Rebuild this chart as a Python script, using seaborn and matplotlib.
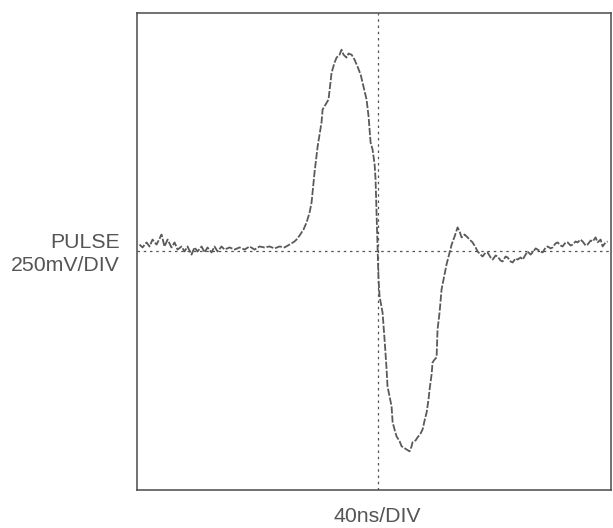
import pandas as pd
import matplotlib.pyplot as plt
import seaborn as sns

# Scope trace: time relative to centre (ns), pulse (mV)
time_ns = [-200.9, -198.3, -195.0, -192.4, -189.9, -186.5, -182.3, -179.8, -177.2, -173.9,
           -171.3, -168.8, -165.4, -162.9, -160.4, -157.0, -154.5, -151.9, -148.5, -146.0,
           -143.5, -140.1, -137.6, -135.0, -131.7, -129.1, -124.9, -120.7, -116.5, -112.3,
           -108.0, -103.8, -99.6, -95.4, -91.2, -86.9, -82.7, -78.5, -74.3, -70.1,
           -68.4, -65.8, -62.5, -59.9, -57.4, -55.7, -53.2, -50.6, -47.3, -46.4,
           -43.9, -41.4, -38.8, -36.3, -34.6, -32.1, -30.4, -28.7, -26.2, -24.5,
           -21.9, -19.4, -16.9, -14.3, -12.7, -11.0, -9.3, -7.6, -5.9, -4.2,
           -2.5, -1.7, -0.8, 0.0, 0.3, 0.8, 1.7, 4.2, 5.9, 7.6,
           8.4, 10.1, 11.8, 12.7, 14.3, 16.0, 18.6, 20.3, 22.8, 24.5,
           27.0, 28.7, 29.5, 32.1, 33.8, 36.3, 38.0, 39.7, 41.4, 43.0,
           43.9, 45.6, 46.4, 48.1, 49.8, 50.6, 52.3, 54.0, 55.7, 58.2,
           60.8, 62.5, 65.0, 67.5, 69.2, 70.9, 73.4, 76.0, 77.6, 80.2,
           82.7, 84.4, 86.9, 88.6, 91.2, 92.8, 95.4, 97.1, 99.6, 101.3,
           103.8, 105.5, 108.0, 109.7, 112.3, 114.0, 116.5, 118.2, 120.7, 122.4,
           124.9, 126.6, 129.1, 130.8, 133.4, 135.0, 137.6, 139.3, 141.8, 143.5,
           146.0, 147.7, 150.2, 151.9, 154.5, 156.1, 158.7, 160.4, 162.9, 164.6,
           167.1, 168.8, 171.3, 173.0, 175.6, 177.2, 179.8, 181.5, 184.0, 185.7,
           188.2, 189.9, 192.4, 194.1]
pulse_mv = [29, 17, 38, 21, 50, 29, 71, 21, 50, 17,
            38, 8, 21, 0, 21, -13, 17, 0, 21, -4,
            17, -4, 21, 0, 21, 8, 17, 8, 17, 8,
            21, 8, 21, 17, 21, 13, 21, 17, 29, 42,
            50, 67, 92, 122, 163, 205, 331, 440, 541, 595,
            616, 637, 750, 792, 813, 825, 846, 825, 813, 830,
            825, 804, 775, 742, 708, 670, 637, 566, 457, 427,
            365, 302, 147, 0, -46, -117, -189, -256, -369, -494,
            -566, -608, -649, -716, -746, -775, -796, -817, -825, -830,
            -838, -817, -800, -792, -779, -763, -746, -708, -675, -620,
            -578, -515, -465, -453, -444, -327, -256, -159, -117, -54,
            -4, 29, 63, 101, 84, 59, 71, 59, 50, 38,
            17, 0, -13, -21, -4, -4, -25, -34, -17, -21,
            -38, -42, -21, -25, -42, -46, -29, -34, -25, -34,
            -13, 0, -13, -4, 13, 8, 0, -4, 17, 21,
            13, 17, 34, 38, 25, 21, 38, 38, 25, 29,
            42, 38, 50, 42, 25, 29, 46, 42, 59, 38,
            50, 21, 38, 42]

y_label = "PULSE\n250mV/DIV"
x_label = "40ns/DIV"

df = pd.DataFrame({"t": time_ns, "v": pulse_mv})

sns.set_style("white")
fig = plt.figure(figsize=(6.13, 5.28), dpi=100)
ax = fig.add_axes([0.2235, 0.072, 0.7733, 0.9034])

sns.lineplot(data=df, x="t", y="v", ax=ax, color="#5a5a5a", linewidth=1.3,
             linestyle=(0, (4, 1)), sort=False)

# centre graticule lines
ax.axvline(0, color="#555555", linewidth=0.9, linestyle=(0, (2, 3)))
ax.axhline(0, color="#555555", linewidth=0.9, linestyle=(0, (2, 3)))

ax.set_xlim(-203, 197)
ax.set_ylim(-1000, 1000)
ax.set_xticks([])
ax.set_yticks([])
ax.set_xlabel("")
ax.set_ylabel("")
for sp in ax.spines.values():
    sp.set_color("#4a4a4a")
    sp.set_linewidth(1.1)

fig.text(120 / 613, 1 - 254 / 528, y_label, ha="right", va="center",
         fontsize=15.3, color="#555555", family="Liberation Sans", linespacing=1.3)
fig.text(377 / 613, 1 - 517 / 528, x_label, ha="center", va="center",
         fontsize=15.3, color="#555555", family="Liberation Sans")

fig.savefig("out.png", dpi=100)
